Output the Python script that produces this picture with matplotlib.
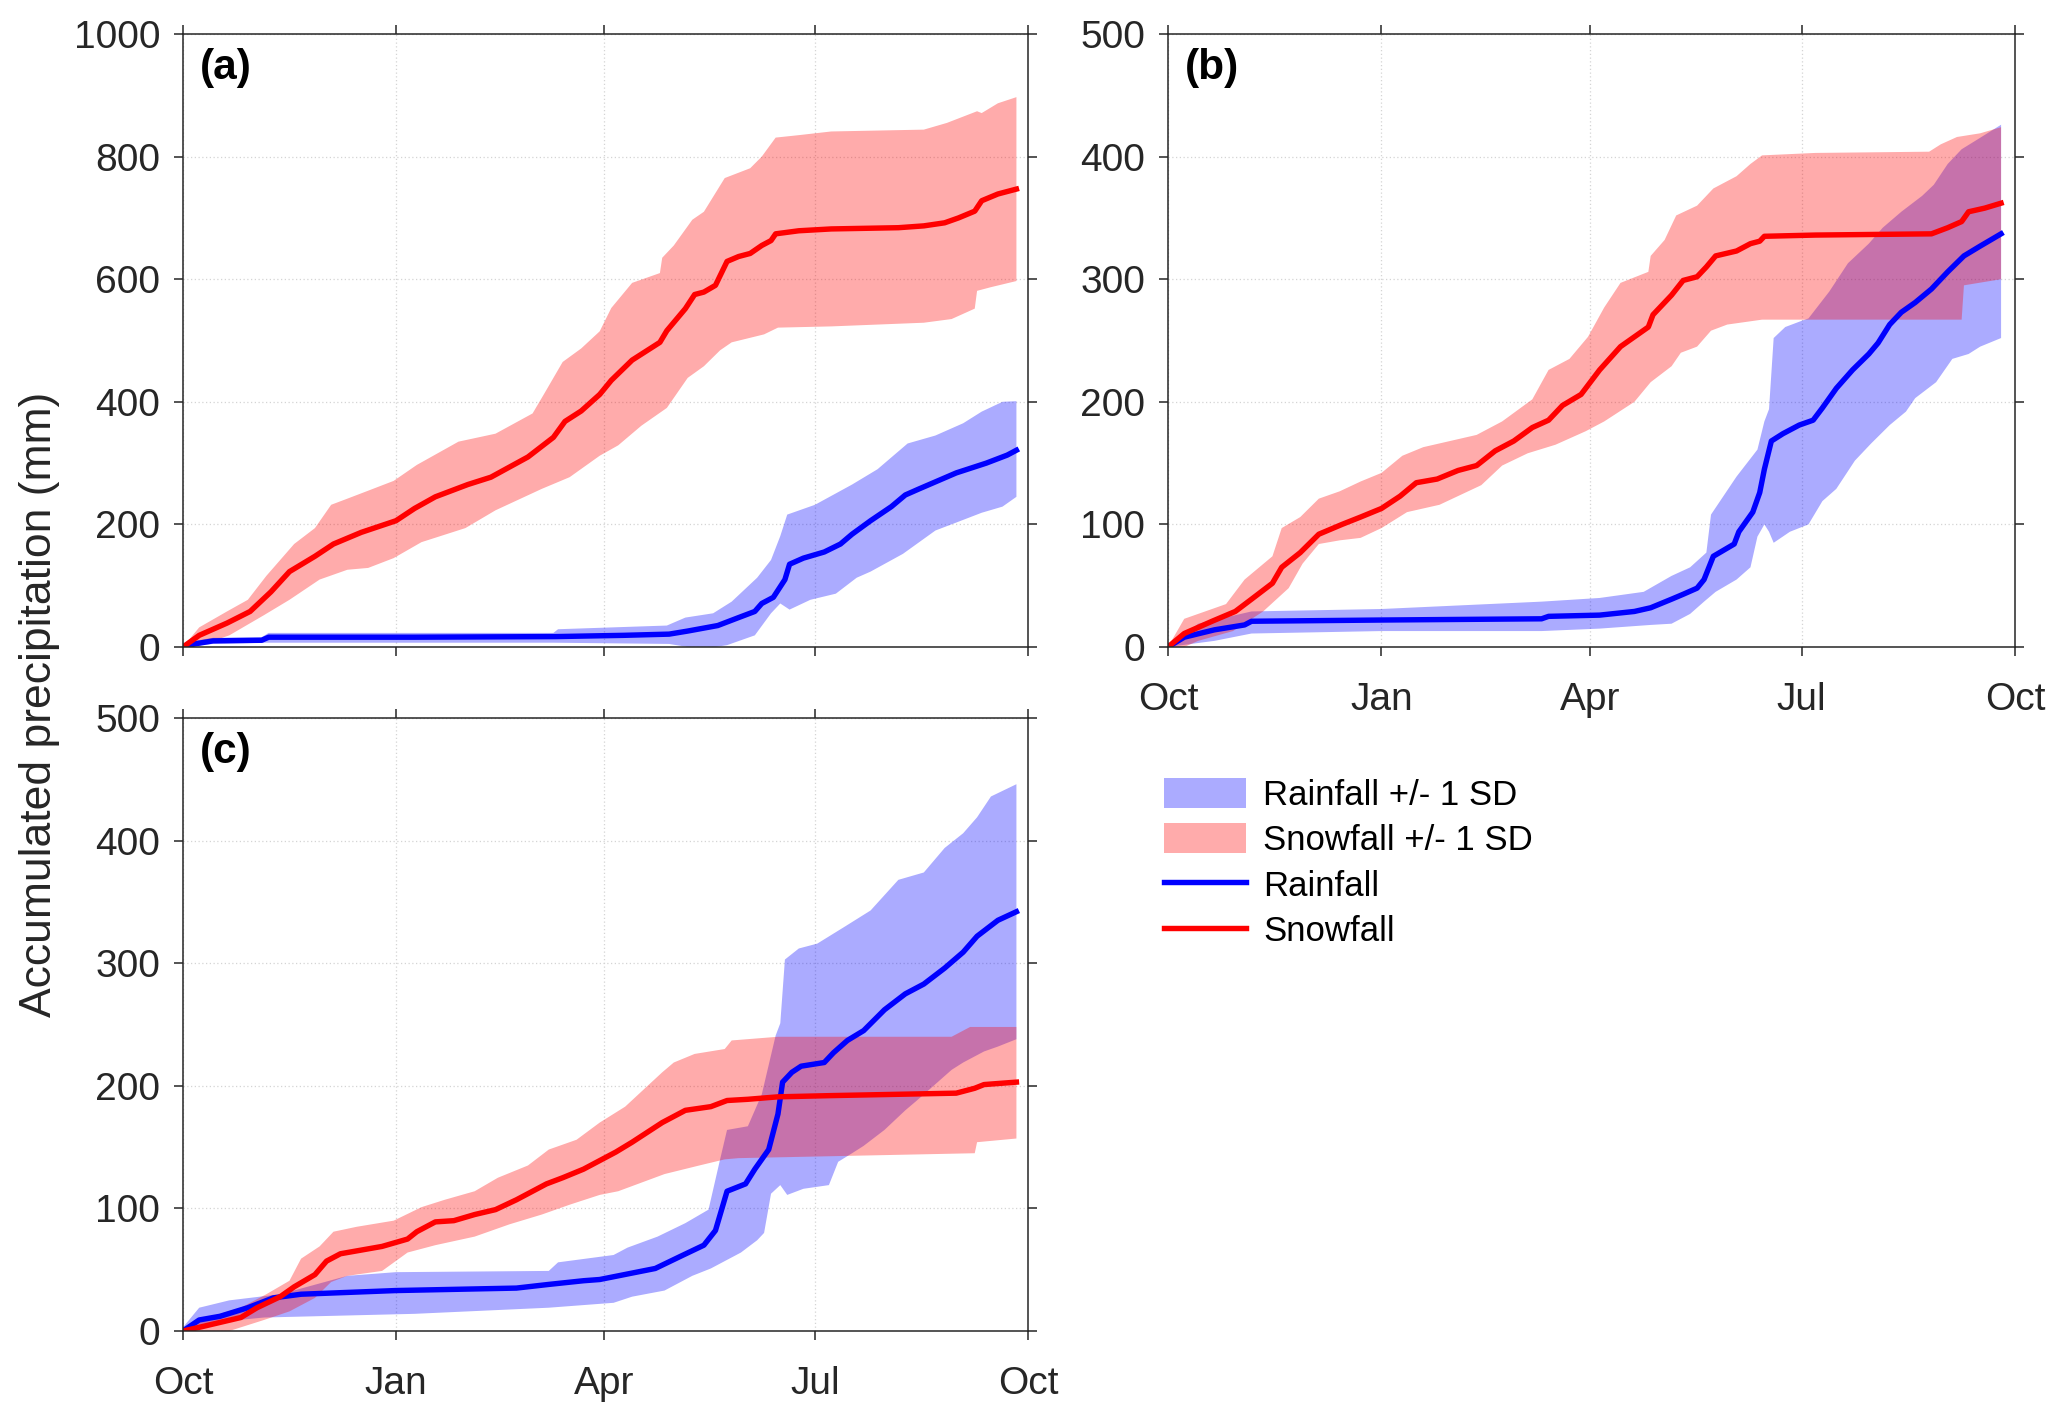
import numpy as np
import matplotlib
matplotlib.use("Agg")
import matplotlib.pyplot as plt
from matplotlib.patches import Patch
from matplotlib.lines import Line2D

plt.rcParams['font.family'] = ['Liberation Sans', 'DejaVu Sans']

# ---------------- data (day of water year, mm) ----------------
month_ticks = [0, 92, 182, 273, 365]
month_labels = ['Oct', 'Jan', 'Apr', 'Jul', 'Oct']

# Panel (a)
a_snow_d = [0,7,19,29,38,46,57,65,77,92,100,109,123,133,149,160,165,172,180,185,194,206,209,217,221,225,230,235,240,245,250,254,256,266,280,309,320,329,335,342,345,352,360]
a_snow = [0,19,39,58,90,123,148,168,187,206,226,245,265,277,310,342,368,385,412,435,468,497,516,552,575,579,590,629,637,642,655,663,674,679,682,684,687,692,700,711,728,739,747]
a_snow_up_d = [0,7,19,28,36,48,57,64,71,80,91,101,119,135,151,156,164,172,180,185,194,206,207,212,220,225,234,245,250,256,266,280,320,330,343,345,352,360]
a_snow_up = [0,32,58,77,116,168,194,232,242,255,271,297,335,348,381,413,465,487,515,553,594,610,635,655,697,710,765,781,800,831,835,841,844,855,874,871,887,897]
a_snow_lo_d = [0,7,20,35,46,59,71,80,91,103,122,135,155,167,180,188,198,209,218,225,232,237,251,257,280,320,332,342,343,349,360]
a_snow_lo = [0,2,19,52,77,110,126,129,145,171,194,223,258,277,312,329,361,390,439,458,484,497,510,521,523,529,535,552,581,587,597]
a_rain_d = [0,5,13,34,37,100,161,190,210,218,231,240,247,250,255,260,262,268,277,284,289,297,306,312,318,326,334,347,356,360]
a_rain = [0,5,10,11,16,16,17,19,21,26,35,48,58,71,81,110,135,145,155,168,184,206,229,248,258,271,284,300,313,321]
a_rain_up_d = [0,5,13,34,37,160,162,209,217,229,237,248,254,258,261,273,289,300,313,325,337,345,354,360]
a_rain_up = [0,10,15,16,23,23,29,35,48,55,74,113,142,181,216,232,265,290,332,345,365,384,400,401]
a_rain_lo_d = [0,13,36,160,210,218,230,235,247,254,258,262,271,282,291,297,311,325,334,345,354,360]
a_rain_lo = [0,5,7,7,5,0,0,3,19,55,71,61,77,87,113,123,152,190,203,219,229,245]

# Panel (b)
b_snow_d = [0,7,19,29,36,45,49,57,65,75,83,92,100,107,116,125,133,141,149,157,164,170,178,186,195,207,209,217,222,228,232,236,245,251,255,257,279,329,336,342,345,352,359]
b_snow = [0,11,21,29,39,52,65,77,92,100,106,113,123,134,137,144,148,160,168,179,185,197,206,226,245,261,271,287,299,302,310,319,323,329,331,335,336,337,342,347,355,358,362]
b_snow_up_d = [0,7,25,33,45,49,57,65,74,83,92,101,110,133,144,157,164,173,181,188,195,207,208,214,219,228,235,245,251,256,279,328,333,340,350,359]
b_snow_up = [0,23,35,55,74,97,106,121,127,135,142,156,163,173,184,202,226,235,253,277,297,306,319,332,352,360,374,384,394,401,403,404,410,416,419,424]
b_snow_lo_d = [0,7,13,28,41,52,58,65,74,83,92,103,117,135,144,155,167,180,188,201,208,217,221,228,234,241,256,342,343,359]
b_snow_lo = [0,0,5,13,29,48,68,84,87,89,97,110,116,132,148,158,165,176,184,200,216,229,240,245,258,263,267,267,295,300]
b_rain_d = [0,7,20,33,36,92,161,164,186,201,208,217,222,228,231,235,244,246,252,255,257,260,265,272,278,282,288,295,302,306,311,316,322,329,336,343,350,359]
b_rain = [0,8,14,18,21,22,23,25,26,29,32,39,43,48,55,74,84,94,110,126,145,168,174,181,185,195,211,226,239,248,263,273,281,292,306,319,327,337]
b_rain_up_d = [0,13,36,92,161,186,205,217,225,232,234,245,254,257,259,261,266,273,276,285,293,302,308,316,325,330,336,342,348,359]
b_rain_up = [0,19,29,31,37,40,45,58,65,77,108,139,161,184,194,252,261,266,268,290,313,329,342,355,368,377,394,406,413,426]
b_rain_lo_d = [0,20,36,92,161,186,208,217,225,231,236,245,251,254,257,259,261,268,276,282,288,296,303,311,318,322,331,338,345,350,359]
b_rain_lo = [0,5,11,13,13,15,18,19,27,37,45,55,65,90,100,94,85,94,100,119,129,152,166,181,192,203,216,235,239,245,252]

# Panel (c)
c_snow_d = [0,7,16,25,32,42,48,57,62,68,77,86,97,101,109,117,126,135,144,157,164,173,181,187,194,207,217,228,235,244,257,280,334,342,346,360]
c_snow = [0,3,7,11,19,28,36,46,57,63,66,69,75,81,89,90,95,99,107,120,125,132,140,146,154,170,180,183,188,189,191,192,194,198,201,203]
c_snow_up_d = [0,7,25,36,46,51,59,65,75,91,103,113,126,136,149,158,170,180,191,207,212,221,234,237,257,332,340,360]
c_snow_up = [0,9,19,30,41,59,69,81,85,90,101,107,114,125,135,148,156,170,183,211,219,226,230,237,240,240,248,248]
c_snow_lo_d = [0,20,35,46,57,64,71,86,97,109,126,141,155,167,180,188,208,223,234,240,342,343,360]
c_snow_lo = [0,0,9,16,27,40,45,49,64,70,77,87,95,103,111,114,128,135,140,141,145,154,157]
c_rain_d = [0,7,16,28,39,51,92,144,158,173,180,188,204,215,225,230,235,243,247,253,257,259,263,267,277,281,287,294,303,312,320,329,337,343,352,360]
c_rain = [0,9,12,19,27,30,33,35,38,41,42,45,51,61,70,82,114,120,132,148,177,203,211,216,219,227,237,245,262,275,283,296,309,322,335,342]
c_rain_up_d = [0,7,20,42,71,92,158,162,186,192,205,217,227,232,235,244,250,256,258,260,266,274,286,297,309,320,329,337,343,349,360]
c_rain_up = [3,19,25,30,45,48,49,56,62,68,77,88,99,140,164,167,193,241,251,303,312,316,330,343,368,374,394,406,419,436,446]
c_rain_lo_d = [0,13,35,100,158,186,194,208,220,228,234,241,248,251,254,258,261,268,279,283,289,294,303,312,317,332,337,346,352,360]
c_rain_lo = [0,7,11,14,19,23,28,33,45,51,57,64,74,80,112,119,111,116,119,138,145,151,164,180,188,213,219,228,232,238]

panels = [
    dict(label='(a)', ylim=1000, yticks=[0, 200, 400, 600, 800, 1000], xlabels=False,
         rain=(a_rain_d, a_rain, a_rain_up_d, a_rain_up, a_rain_lo_d, a_rain_lo),
         snow=(a_snow_d, a_snow, a_snow_up_d, a_snow_up, a_snow_lo_d, a_snow_lo)),
    dict(label='(b)', ylim=500, yticks=[0, 100, 200, 300, 400, 500], xlabels=True,
         rain=(b_rain_d, b_rain, b_rain_up_d, b_rain_up, b_rain_lo_d, b_rain_lo),
         snow=(b_snow_d, b_snow, b_snow_up_d, b_snow_up, b_snow_lo_d, b_snow_lo)),
    dict(label='(c)', ylim=500, yticks=[0, 100, 200, 300, 400, 500], xlabels=True,
         rain=(c_rain_d, c_rain, c_rain_up_d, c_rain_up, c_rain_lo_d, c_rain_lo),
         snow=(c_snow_d, c_snow, c_snow_up_d, c_snow_up, c_snow_lo_d, c_snow_lo)),
]

W, H = 2067, 1422
fig = plt.figure(figsize=(W / 100, H / 100), dpi=100)
rects = [
    [183 / W, 1 - 647 / H, 845 / W, 613 / H],
    [1168 / W, 1 - 647 / H, 847 / W, 613 / H],
    [183 / W, 1 - 1331 / H, 845 / W, 613 / H],
]
axc = '#262626'
LW = 3.9

def band(ax, du, vu, dl, vl, color):
    xs = np.r_[np.asarray(du, float), np.asarray(dl, float)[::-1]]
    ys = np.r_[np.asarray(vu, float), np.asarray(vl, float)[::-1]]
    ax.fill(xs, ys, color=color, alpha=0.33, linewidth=0)

for rect, p in zip(rects, panels):
    ax = fig.add_axes(rect)
    rd, rv, rud, ruv, rld, rlv = p['rain']
    sd, sv, sud, suv, sld, slv = p['snow']
    band(ax, rud, ruv, rld, rlv, (0, 0, 1))
    ax.plot(rd, rv, color=(0, 0, 1), lw=LW, solid_joinstyle='round')
    band(ax, sud, suv, sld, slv, (1, 0, 0))
    ax.plot(sd, sv, color=(1, 0, 0), lw=LW, solid_joinstyle='round')

    ax.set_xlim(0, 365)
    ax.set_ylim(0, p['ylim'])
    ax.set_xticks(month_ticks)
    ax.set_yticks(p['yticks'])
    if p['xlabels']:
        ax.set_xticklabels(month_labels)
    else:
        ax.set_xticklabels([])
    ax.grid(True, color='#d4d4d4', linestyle=(0, (1, 2)), linewidth=0.9)
    ax.set_axisbelow(True)
    for s in ax.spines.values():
        s.set_color(axc)
        s.set_linewidth(1.1)
    ax.tick_params(axis='both', direction='out', length=6.5, width=1.1,
                   colors=axc, labelsize=28, top=True, right=True)
    ax.tick_params(axis='x', pad=19)
    ax.tick_params(axis='y', pad=10)
    ax.text(0.02, 0.977, p['label'], transform=ax.transAxes, ha='left', va='top',
            fontsize=30.5, fontweight='bold', color='black')

fig.text(40 / W, 0.505, 'Accumulated precipitation (mm)', rotation=90,
         ha='center', va='center', fontsize=32, color=axc)

handles = [Patch(facecolor=(0, 0, 1), alpha=0.33, edgecolor='none'),
           Patch(facecolor=(1, 0, 0), alpha=0.33, edgecolor='none'),
           Line2D([], [], color=(0, 0, 1), lw=LW),
           Line2D([], [], color=(1, 0, 0), lw=LW)]
labels = ['Rainfall +/- 1 SD', 'Snowfall +/- 1 SD', 'Rainfall', 'Snowfall']
fig.legend(handles, labels, loc='upper left', bbox_to_anchor=(1164 / W, 1 - 778 / H),
           frameon=False, fontsize=25, handlelength=2.35, handleheight=0.95,
           handletextpad=0.5, labelspacing=0.33, borderpad=0, borderaxespad=0)

fig.savefig('out.png', dpi=100)
